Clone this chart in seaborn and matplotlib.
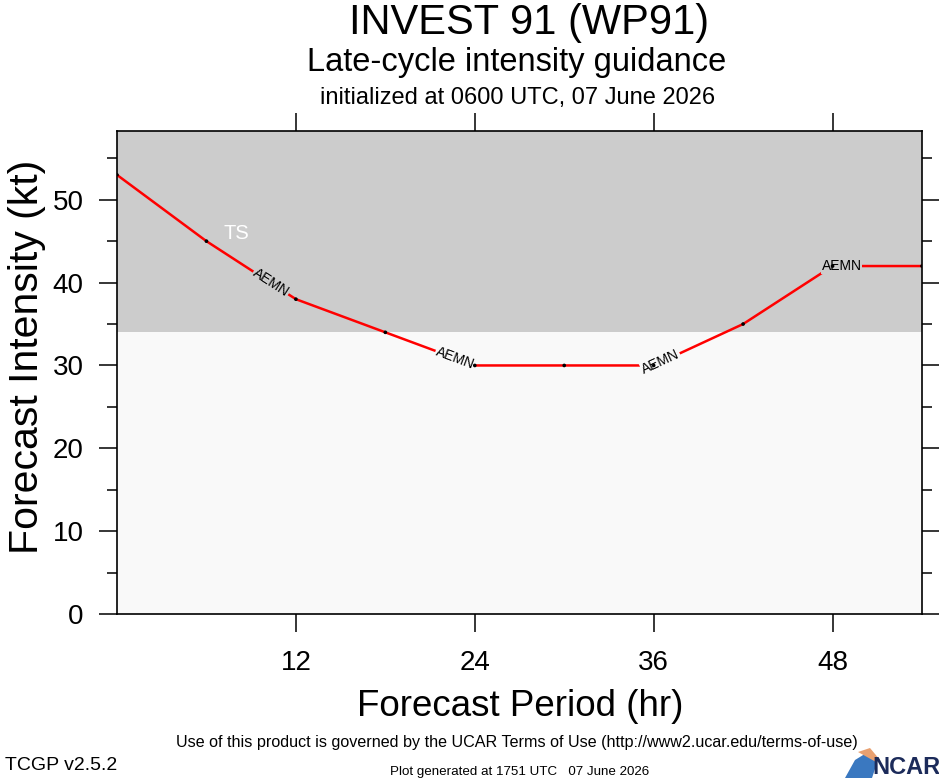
import numpy as np
import pandas as pd
import matplotlib
matplotlib.use("Agg")
import matplotlib.pyplot as plt
import seaborn as sns
from matplotlib.patches import Polygon

# ---------------- data ----------------
hours = [0, 6, 12, 18, 24, 30, 36, 42, 48, 54]
intensity = [53, 45, 38, 34, 30, 30, 30, 35, 42, 42]
model_name = "AEMN"
label_segments = [1, 3, 6, 8]
label_fracs = [0.72, 0.78, 0.08, 0.10]
band_bounds = [0, 34, 64]
band_colors = ["#f9f9f9", "#cccccc"]
band_names = ["", "TS"]
x_ticks = [12, 24, 36, 48]
y_major = [0, 10, 20, 30, 40, 50]
y_minor = [5, 15, 25, 35, 45, 55]
title = "INVEST 91 (WP91)"
subtitle = "Late-cycle intensity guidance"
init_line = "initialized at 0600 UTC, 07 June 2026"
xlabel = "Forecast Period (hr)"
ylabel = "Forecast Intensity (kt)"
terms = "Use of this product is governed by the UCAR Terms of Use (http://www2.ucar.edu/terms-of-use)"
version = "TCGP v2.5.2"
generated = "Plot generated at 1751 UTC   07 June 2026"

df = pd.DataFrame({"hour": hours, "vmax": intensity})

sns.set_theme(style="ticks")
plt.rcParams["font.family"] = ["Liberation Sans Narrow", "Liberation Sans", "DejaVu Sans"]
for k in ["text.color", "axes.labelcolor", "xtick.color", "ytick.color", "axes.edgecolor"]:
    plt.rcParams[k] = "black"

W, H = 939, 780
fig = plt.figure(figsize=(W / 100, H / 100), dpi=100)
ax = fig.add_axes([117 / W, 1 - 614 / H, (922 - 117) / W, (614 - 131) / H])
ax.set_xlim(0, 54)
ax.set_ylim(0, 58.3)

# intensity bands
for i in range(len(band_colors)):
    ax.axhspan(band_bounds[i], band_bounds[i + 1], color=band_colors[i], lw=0, zorder=0)
ax.text(8, 45.9, band_names[1], color="white", fontsize=14.5, ha="center", va="center", zorder=2)

sns.lineplot(data=df, x="hour", y="vmax", ax=ax, color="red", lw=1.8, zorder=3,
             legend=False)
sns.scatterplot(data=df, x="hour", y="vmax", ax=ax, color="black", s=7,
                edgecolor="none", zorder=6, legend=False)

# inline model labels
for seg, frac in zip(label_segments, label_fracs):
    x0, x1 = hours[seg], hours[seg + 1]
    y0, y1 = intensity[seg], intensity[seg + 1]
    xl = x0 + frac * (x1 - x0)
    yl = y0 + frac * (y1 - y0)
    p0 = ax.transData.transform((x0, y0))
    p1 = ax.transData.transform((x1, y1))
    ang = np.degrees(np.arctan2(p1[1] - p0[1], p1[0] - p0[0]))
    bg = band_colors[1] if yl >= band_bounds[1] else band_colors[0]
    ax.text(xl, yl, model_name, fontsize=10, rotation=ang, rotation_mode="anchor",
            ha="center", va="center", color="black", zorder=5,
            bbox=dict(facecolor=bg, edgecolor="none", pad=0.6))

ax.set_xticks(x_ticks)
ax.set_xticklabels([str(t) for t in x_ticks], fontsize=20)
ax.set_yticks(y_major)
ax.set_yticklabels([str(t) for t in y_major], fontsize=20)
ax.set_yticks(y_minor, minor=True)
ax.tick_params(axis="both", which="major", direction="out", length=13, width=1.1,
               top=True, right=True, colors="black")
ax.tick_params(axis="y", which="minor", direction="out", length=7, width=1.1,
               left=True, right=True, colors="black")
ax.tick_params(axis="x", which="major", pad=13)
ax.tick_params(axis="y", which="major", pad=11)
for s in ax.spines.values():
    s.set_visible(True)
    s.set_linewidth(1.2)
    s.set_color("black")
ax.set_xlabel("")
ax.set_ylabel("")

# texts
fig.text(529 / W, 1 - 23 / H, title, fontsize=30, ha="center", va="center")
fig.text(517 / W, 1 - 62 / H, subtitle, fontsize=23.5, ha="center", va="center")
fig.text(518 / W, 1 - 98 / H, init_line, fontsize=17, ha="center", va="center")
fig.text(520 / W, 1 - 706 / H, xlabel, fontsize=26.5, ha="center", va="center")
fig.text(27 / W, 1 - 357 / H, ylabel, fontsize=29.5, ha="center", va="center", rotation=90)
fig.text(517 / W, 1 - 743 / H, terms, fontsize=11.6, ha="center", va="center")
fig.text(5 / W, 1 - 766 / H, version, fontsize=14, ha="left", va="center")
fig.text(520 / W, 1 - 772 / H, generated, fontsize=9.6, ha="center", va="center")

# NCAR logo
swoosh = Polygon([[845 / W, 1 - 778 / H], [872 / W, 1 - 778 / H], [878 / W, 1 - 760 / H],
                  [868 / W, 1 - 752 / H], [855 / W, 1 - 760 / H]],
                 closed=True, transform=fig.transFigure, facecolor="#3a78c0",
                 edgecolor="none")
fig.patches.append(swoosh)
arc = Polygon([[858 / W, 1 - 752 / H], [870 / W, 1 - 748 / H], [880 / W, 1 - 760 / H],
               [876 / W, 1 - 762 / H]], closed=True, transform=fig.transFigure,
              facecolor="#e8a070", edgecolor="none")
fig.patches.append(arc)
fig.text(906 / W, 1 - 768 / H, "NCAR", fontsize=17, fontweight="bold", color="#1c2b5a",
         ha="center", va="center")

fig.savefig("out.png", dpi=100)
